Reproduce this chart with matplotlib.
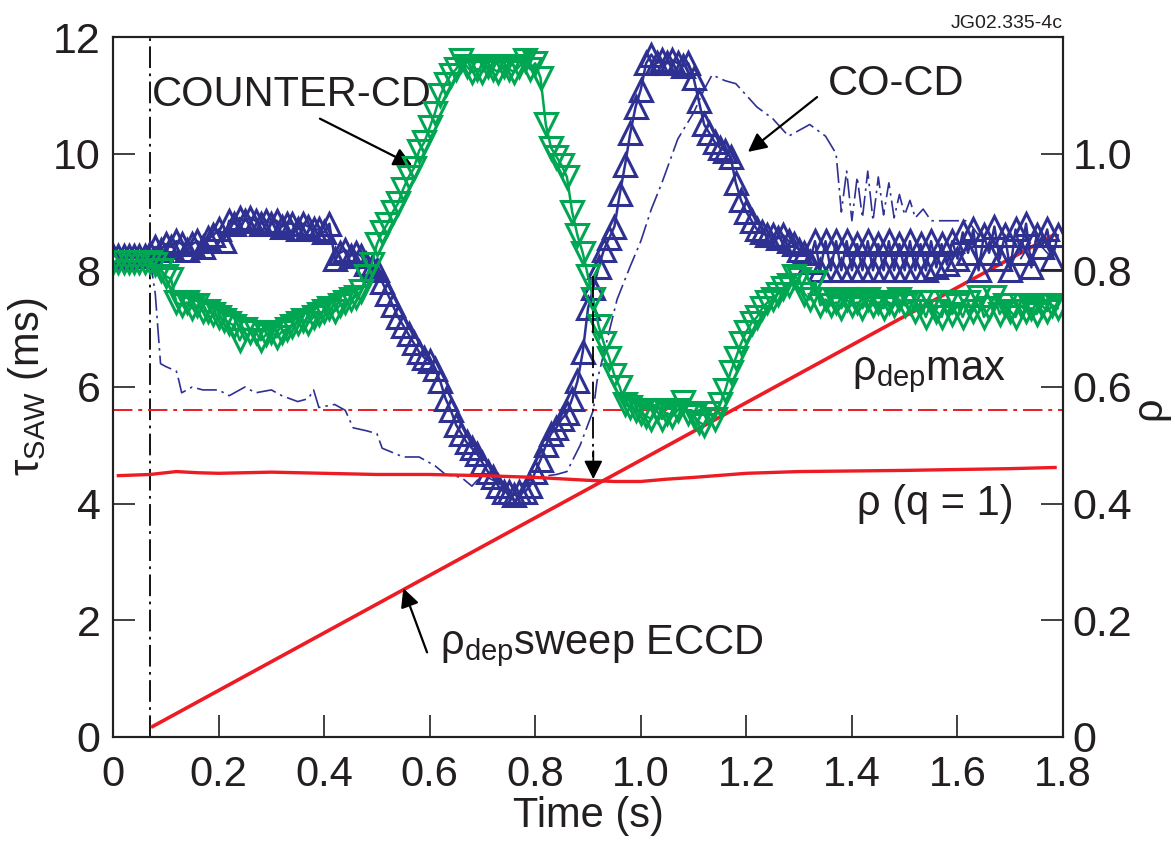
import numpy as np
import matplotlib
matplotlib.use('Agg')
import matplotlib.pyplot as plt

plt.rcParams['font.family'] = ['Liberation Sans', 'DejaVu Sans']
plt.rcParams['mathtext.fontset'] = 'custom'
plt.rcParams['mathtext.rm'] = 'Liberation Sans'
plt.rcParams['mathtext.it'] = 'Liberation Sans:italic'
plt.rcParams['mathtext.bf'] = 'Liberation Sans:bold'

INK = '#231f20'
NAVY = '#2e3192'
GREEN = '#00a651'
RED = '#ed1c24'

# sawtooth period samples, 10 ms apart
time = np.arange(0, 1.8, 0.01)

co_cd = [
    8.25, 8.25, 8.25, 8.25, 8.25, 8.25, 8.25, 8.3, 8.4, 8.35,
    8.45, 8.4, 8.5, 8.45, 8.35, 8.45, 8.5, 8.4, 8.55, 8.6,
    8.7, 8.5, 8.85, 8.8, 8.9, 8.85, 8.9, 8.85, 8.8, 8.85,
    8.8, 8.85, 8.75, 8.8, 8.8, 8.7, 8.8, 8.75, 8.7, 8.7,
    8.65, 8.8, 8.2, 8.3, 8.35, 8.25, 8.3, 8.25, 8.1, 8.05,
    8.0, 7.8, 7.6, 7.4, 7.2, 7.05, 6.9, 6.75, 6.6, 6.5,
    6.45, 6.3, 6.1, 5.8, 5.6, 5.35, 5.2, 5.05, 4.95, 4.85,
    4.7, 4.55, 4.45, 4.3, 4.2, 4.2, 4.15, 4.2, 4.2, 4.3,
    4.55, 4.75, 5.0, 5.2, 5.3, 5.45, 5.55, 5.8, 6.1, 6.6,
    7.35, 7.7, 8.05, 8.35, 8.55, 8.75, 9.3, 9.8, 10.35, 10.8,
    11.1, 11.55, 11.7, 11.55, 11.6, 11.55, 11.6, 11.55, 11.5, 11.55,
    11.3, 10.9, 10.5, 10.35, 10.2, 10.1, 10.05, 9.95, 9.5, 9.2,
    9.0, 8.85, 8.7, 8.65, 8.6, 8.6, 8.55, 8.6, 8.5, 8.45,
    8.35, 8.3, 8.15, 8.5, 8.0, 8.5, 8.0, 8.5, 8.0, 8.5,
    8.0, 8.45, 8.0, 8.5, 8.0, 8.45, 8.0, 8.5, 8.0, 8.45,
    8.0, 8.5, 8.0, 8.45, 8.0, 8.5, 8.05, 8.45, 8.1, 8.5,
    8.2, 8.65, 8.3, 8.7, 8.0, 8.6, 8.3, 8.75, 8.2, 8.6,
    8.0, 8.7, 8.3, 8.8, 8.05, 8.6, 8.4, 8.7, 8.2, 8.6,
]

counter_cd = [
    8.15, 8.15, 8.15, 8.15, 8.15, 8.15, 8.15, 8.15, 8.1, 8.0,
    7.9, 7.85, 7.45, 7.4, 7.45, 7.35, 7.4, 7.3, 7.3, 7.25,
    7.2, 7.15, 7.1, 7.05, 6.8, 7.0, 6.95, 6.95, 6.8, 6.9,
    6.95, 6.85, 6.95, 7.0, 7.05, 7.1, 7.15, 7.1, 7.2, 7.25,
    7.3, 7.35, 7.3, 7.4, 7.45, 7.5, 7.55, 7.65, 7.9, 8.1,
    8.45, 8.65, 8.8, 9.0, 9.15, 9.4, 9.6, 9.75, 10.05, 10.2,
    10.45, 10.7, 11.0, 11.2, 11.35, 11.45, 11.6, 11.5, 11.4, 11.45,
    11.4, 11.5, 11.45, 11.4, 11.5, 11.45, 11.4, 11.5, 11.6, 11.45,
    11.55, 11.3, 10.5, 10.1, 9.95, 9.8, 9.6, 9.0, 8.6, 8.3,
    7.9, 7.5, 7.05, 6.75, 6.5, 6.2, 6.0, 5.7, 5.65, 5.6,
    5.55, 5.5, 5.45, 5.6, 5.45, 5.55, 5.5, 5.6, 5.75, 5.55,
    5.5, 5.4, 5.35, 5.55, 5.45, 5.7, 5.95, 6.25, 6.5, 6.75,
    6.95, 7.1, 7.2, 7.35, 7.45, 7.5, 7.6, 7.7, 7.75, 7.9,
    7.85, 7.6, 7.5, 7.8, 7.4, 7.5, 7.4, 7.45, 7.35, 7.5,
    7.4, 7.45, 7.35, 7.5, 7.4, 7.45, 7.35, 7.45, 7.4, 7.5,
    7.4, 7.45, 7.3, 7.45, 7.2, 7.45, 7.3, 7.2, 7.45, 7.25,
    7.4, 7.2, 7.45, 7.3, 7.55, 7.2, 7.35, 7.55, 7.25, 7.4,
    7.3, 7.2, 7.4, 7.3, 7.35, 7.25, 7.4, 7.3, 7.4, 7.35,
]

# ohmic reference discharge
ref_t = [0.07, 0.08, 0.09, 0.10, 0.12, 0.125, 0.13, 0.15, 0.17, 0.20,
         0.22, 0.25, 0.27, 0.30, 0.32, 0.35, 0.37, 0.38, 0.39, 0.42,
         0.44, 0.455, 0.48, 0.50, 0.51, 0.55, 0.58, 0.61, 0.63, 0.66,
         0.68, 0.70, 0.72, 0.74, 0.78, 0.80, 0.84, 0.86, 0.885, 0.91,
         0.917, 0.955, 0.98, 1.00, 1.02, 1.04, 1.07, 1.10, 1.12, 1.135,
         1.16, 1.18, 1.20, 1.22, 1.25, 1.28, 1.30, 1.32, 1.35, 1.37,
         1.38, 1.39, 1.40, 1.41, 1.42, 1.43, 1.44, 1.45, 1.46, 1.47,
         1.48, 1.49, 1.50, 1.51, 1.52, 1.535, 1.55, 1.62, 1.64, 1.66,
         1.68, 1.70, 1.72, 1.74, 1.76, 1.78]
ref_tau = [8.2, 7.6, 6.4, 6.35, 6.27, 6.1, 5.9, 6.0, 5.95, 5.95,
           5.85, 6.0, 5.9, 5.95, 5.85, 5.75, 5.8, 5.95, 5.65, 5.7,
           5.6, 5.3, 5.25, 5.2, 4.95, 4.8, 4.8, 4.65, 4.5, 4.45,
           4.3, 4.5, 4.4, 4.3, 4.35, 4.45, 4.5, 4.55, 5.0, 5.6,
           6.1, 7.5, 8.07, 8.5, 9.05, 9.5, 10.25, 10.7, 11.1, 11.35,
           11.25, 11.2, 11.0, 10.8, 10.6, 10.3, 10.4, 10.5, 10.3, 10.0,
           9.0, 9.7, 8.85, 9.6, 8.9, 9.7, 8.85, 9.6, 8.95, 9.5,
           8.9, 9.3, 8.95, 9.2, 8.9, 9.05, 8.85, 8.85, 8.6, 8.7,
           8.3, 8.6, 8.2, 8.5, 8.4, 8.2]

# q = 1 radius (plotted on the tau scale, rho x 10)
q1_t = [0.01, 0.07, 0.12, 0.16, 0.2, 0.3, 0.4, 0.5, 0.6, 0.7,
        0.8, 0.9, 0.95, 1.0, 1.05, 1.1, 1.2, 1.3, 1.5, 1.7, 1.785]
q1_rho = [0.448, 0.45, 0.455, 0.453, 0.452, 0.454, 0.452, 0.45, 0.45, 0.448,
          0.445, 0.44, 0.438, 0.438, 0.442, 0.445, 0.452, 0.455, 0.457, 0.46, 0.462]

# ECCD deposition sweep
sweep_t = [0.075, 1.785]
sweep_rho = [0.018, 0.862]

rho_dep_max = 0.56
eccd_on = 0.07
crossing_t = 0.91

fig = plt.figure(figsize=(11.75, 8.41), dpi=100)
ax = fig.add_axes([0.0962, 0.1237, 0.8085, 0.8323])
ax2 = ax.twinx()

ax.axvline(eccd_on, color='black', lw=1.3, dashes=(12, 3, 1.5, 3), zorder=1)
ax.axhline(rho_dep_max * 10, color=RED, lw=1.4, dashes=(10, 3, 2, 3), zorder=1)

ax.plot(sweep_t, np.array(sweep_rho) * 10, color=RED, lw=2.6, zorder=2)

ax.plot(ref_t, ref_tau, color=NAVY, lw=1.2, dashes=(12, 3, 1.5, 3), zorder=3)

ax.plot(time, co_cd, color=NAVY, lw=1.8, marker='^', ms=16, mew=2.2,
        mfc='none', mec=NAVY, zorder=4)
ax.plot(time, counter_cd, color=GREEN, lw=1.8, marker='v', ms=16, mew=2.2,
        mfc='none', mec=GREEN, zorder=5)

ax.plot(q1_t, np.array(q1_rho) * 10, color=RED, lw=2.4, zorder=6)

# sawtooth inversion radius marker
ax.plot([crossing_t, crossing_t], [7.9, 4.8], color='black', lw=1.3,
        dashes=(12, 3, 1.5, 3), zorder=7)
ax.annotate('', xy=(crossing_t, 4.42), xytext=(crossing_t, 4.9),
            arrowprops=dict(arrowstyle='-|>', color='black', lw=1.3,
                            mutation_scale=28, shrinkA=0, shrinkB=0),
            zorder=7)

arrow = dict(arrowstyle='-|>', color='black', lw=1.6, mutation_scale=28,
             shrinkA=0, shrinkB=0)
txt = dict(fontsize=30, color=INK)

ax.text(0.074, 11.0, 'COUNTER-CD', ha='left', va='center', **txt)
ax.annotate('', xy=(0.567, 9.8), xytext=(0.392, 10.6), arrowprops=arrow)

ax.text(1.355, 11.2, 'CO-CD', ha='left', va='center', **txt)
ax.annotate('', xy=(1.203, 10.03), xytext=(1.334, 10.97), arrowprops=arrow)

ax.text(1.40, 6.2, 'ρ$_{\\mathrm{dep}}$max', ha='left', va='center', **txt)
ax.text(1.41, 4.0, 'ρ (q = 1)', ha='left', va='center', **txt)

ax.text(0.62, 1.55, 'ρ$_{\\mathrm{dep}}$sweep ECCD', ha='left', va='center', **txt)
ax.annotate('', xy=(0.55, 2.55), xytext=(0.595, 1.45), arrowprops=arrow)

fig.text(0.9047, 0.962, 'JG02.335-4c', ha='right', va='bottom',
         fontsize=14, color=INK)

ax.set_xlim(0, 1.8)
ax.set_ylim(0, 12)
ax2.set_ylim(0, 1.2)

xt = [0, 0.2, 0.4, 0.6, 0.8, 1.0, 1.2, 1.4, 1.6, 1.8]
ax.set_xticks(xt)
ax.set_xticklabels(['0', '0.2', '0.4', '0.6', '0.8', '1.0', '1.2', '1.4', '1.6', '1.8'])
ax.set_yticks([0, 2, 4, 6, 8, 10, 12])
ax.set_yticklabels(['0', '2', '4', '6', '8', '10', '12'])
ax2.set_yticks([0, 0.2, 0.4, 0.6, 0.8, 1.0])
ax2.set_yticklabels(['0', '0.2', '0.4', '0.6', '0.8', '1.0'])

for a in (ax, ax2):
    for s in a.spines.values():
        s.set_linewidth(1.5)
        s.set_color(INK)
ax.tick_params(axis='both', direction='in', length=16, width=1.2, color=INK,
               labelsize=31, labelcolor=INK)
ax.tick_params(axis='x', pad=13, labelsize=30)
ax.tick_params(axis='y', pad=9)
ax2.tick_params(axis='y', direction='in', length=16, width=1.2, color=INK,
                labelsize=31, labelcolor=INK, pad=7)

ax.set_xlabel('Time (s)', fontsize=30, color=INK)
ax.xaxis.set_label_coords(0.5, -0.085)
ax.set_ylabel('τ$_{\\mathrm{SAW}}$ (ms)', fontsize=30, color=INK)
ax.yaxis.set_label_coords(-0.066, 0.5)
ax2.set_ylabel('ρ', fontsize=30, color=INK)
ax2.yaxis.set_label_coords(1.07, 0.47)

fig.savefig('out.png', dpi=100)
